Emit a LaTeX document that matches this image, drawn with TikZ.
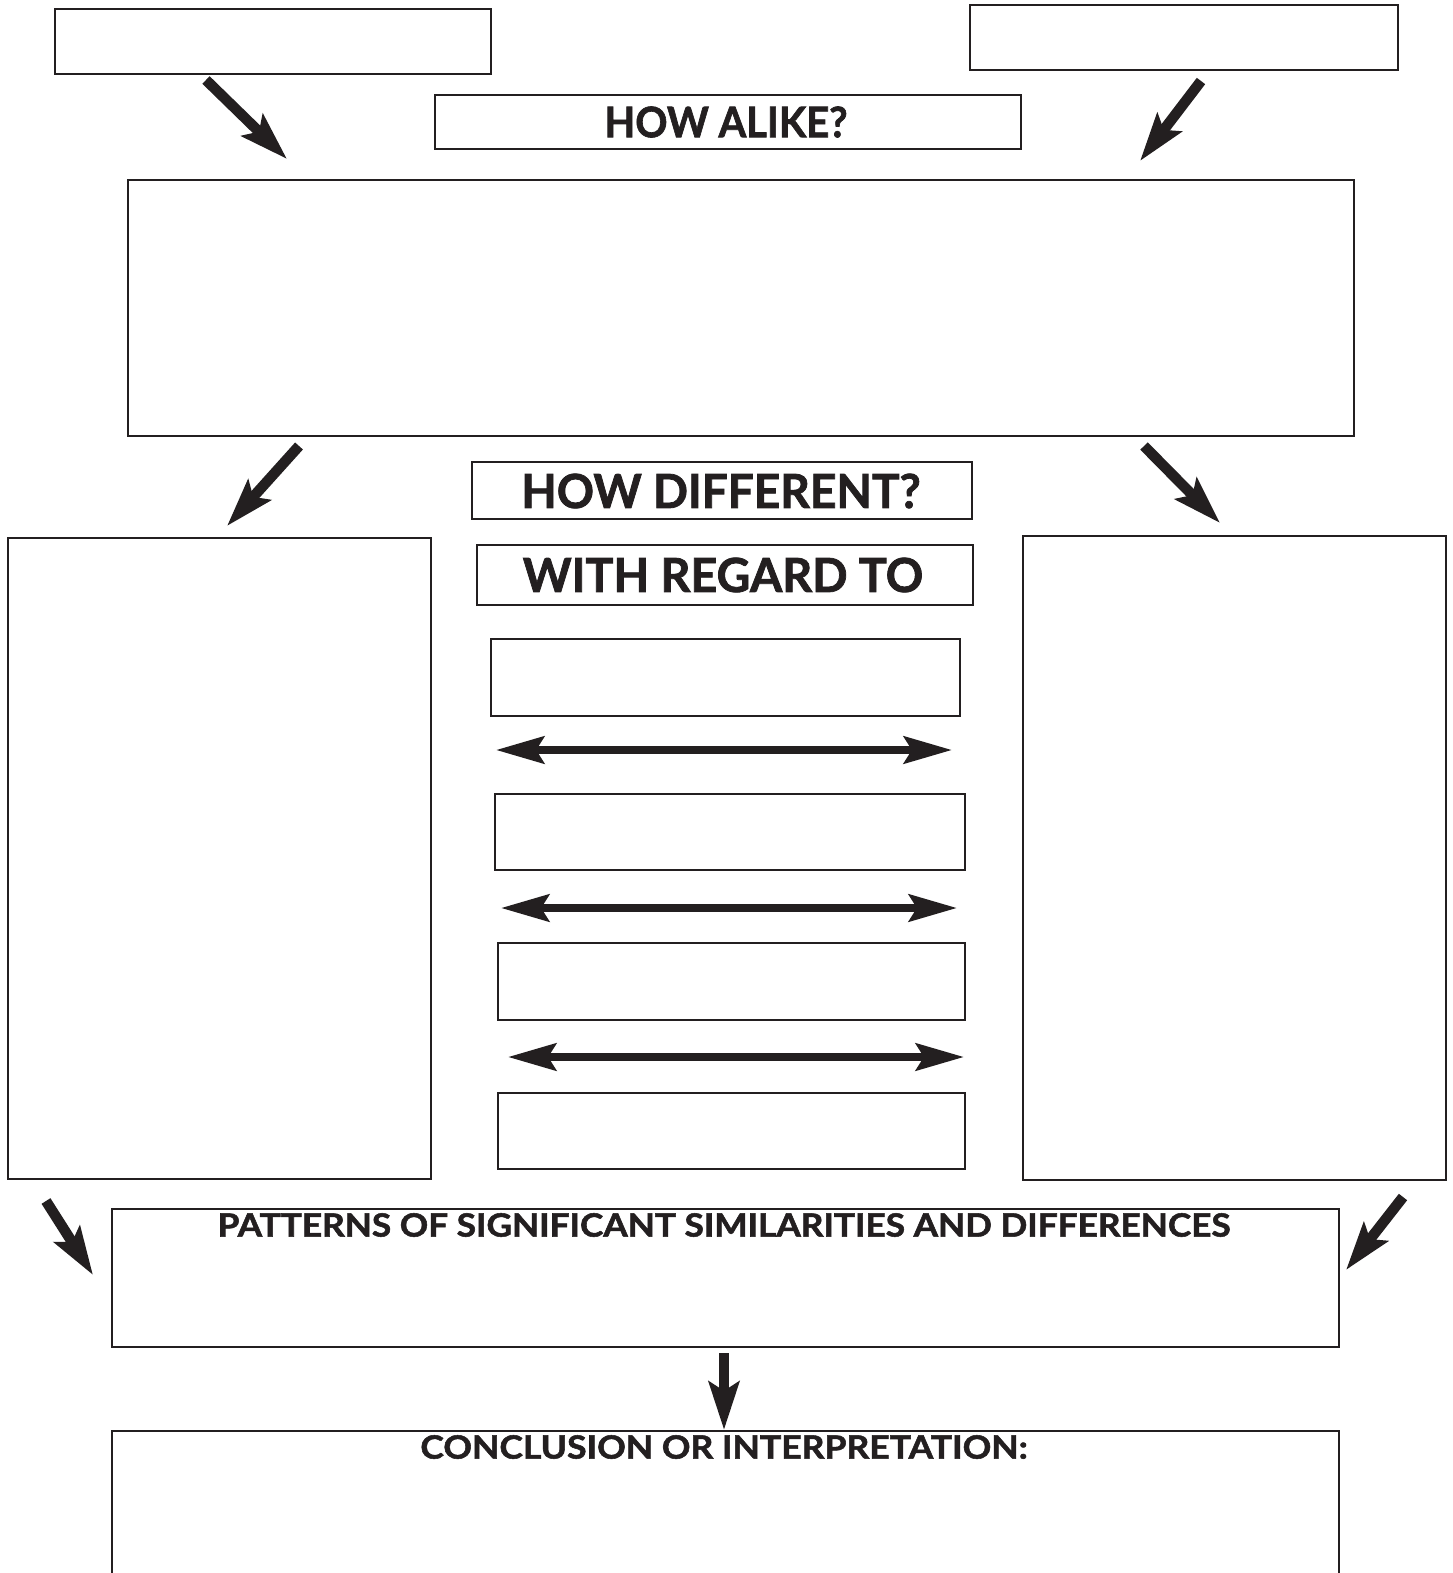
\documentclass[tikz,border=0pt]{standalone}
\usepackage{fontspec}
\setmainfont{Lato}
\newfontfamily\heavy{Lato}[UprightFeatures={FakeBold=1.6}, BoldFeatures={FakeBold=1.6}]
\usetikzlibrary{arrows.meta}
\definecolor{ink}{HTML}{231F20}
\tikzset{
  box/.style={draw=ink, line width=2pt, inner sep=0pt, anchor=north west},
  lbl/.style={text=ink, inner sep=0pt},
  fat/.style={draw=ink, line width=10.5pt, -{Stealth[length=48pt,width=30pt,inset=9pt]}},
  dbl/.style={draw=ink, line width=8pt, {Stealth[length=48pt,width=27pt,inset=8pt]}-{Stealth[length=48pt,width=27pt,inset=8pt]}},
}
\newcommand{\boxat}[5]{\node[box, minimum width=#4pt, minimum height=#5pt] (#1) at (#2,#3) {};}
\begin{document}
\begin{tikzpicture}[x=1pt,y=-1pt]
\useasboundingbox (0,0) rectangle (1452,1573);
\clip (0,0) rectangle (1452,1573);
\fill[white] (0,0) rectangle (1452,1573);
% boxes
\boxat{tl}{54}{8}{436}{65}
\boxat{tr}{969}{4}{428}{65}
\boxat{alike}{434}{94}{586}{54}
\boxat{big}{127}{179}{1226}{256}
\boxat{diff}{471}{461}{500}{57}
\boxat{regard}{476}{544}{496}{60}
\boxat{left}{7}{537}{423}{641}
\boxat{right}{1022}{535}{423}{644}
\boxat{s1}{490}{638}{469}{77}
\boxat{s2}{494}{793}{470}{76}
\boxat{s3}{497}{942}{467}{77}
\boxat{s4}{497}{1092}{467}{76}
\boxat{pat}{111}{1208}{1227}{138}
\boxat{concl}{111}{1430}{1227}{200}
% labels
\node[lbl, xscale=0.95, font=\fontsize{42}{42}\selectfont\heavy\bfseries] (talike) at (726,122) {HOW ALIKE?};
\node[lbl, xscale=0.98, font=\fontsize{47}{47}\selectfont\heavy\bfseries] (tdiff) at (721,491) {HOW DIFFERENT?};
\node[lbl, xscale=0.99, font=\fontsize{47}{47}\selectfont\heavy\bfseries] (treg) at (723,575) {WITH REGARD TO};
\node[lbl, xscale=1.1, font=\fontsize{32}{32}\selectfont\heavy\bfseries] (tpat) at (724,1225) {PATTERNS OF SIGNIFICANT SIMILARITIES AND DIFFERENCES};
\node[lbl, xscale=1.11, font=\fontsize{32}{32}\selectfont\heavy\bfseries] (tconcl) at (724,1447) {CONCLUSION OR INTERPRETATION:};
% arrow end points
\coordinate (a1s) at (206,80);  \coordinate (a1e) at (287,159);
\coordinate (a2s) at (1201,81); \coordinate (a2e) at (1140,161);
\coordinate (a3s) at (299,446); \coordinate (a3e) at (227,526);
\coordinate (a4s) at (1144,446); \coordinate (a4e) at (1220,523);
\coordinate (a5s) at (46,1201); \coordinate (a5e) at (93,1275);
\coordinate (a6s) at (1403,1197); \coordinate (a6e) at (1346,1270);
\draw[fat] (a1s) -- (a1e);
\draw[fat] (a2s) -- (a2e);
\draw[fat] (a3s) -- (a3e);
\draw[fat] (a4s) -- (a4e);
\draw[fat] (a5s) -- (a5e);
\draw[fat] (a6s) -- (a6e);
\draw[fat] (pat.south -| 724,0) ++(0,5) coordinate (a7s) -- (concl.north -| a7s);
% double arrows
\coordinate (d1l) at (496,750); \coordinate (d1r) at (952,750);
\coordinate (d2l) at (501,908); \coordinate (d2r) at (957,908);
\coordinate (d3l) at (508,1057); \coordinate (d3r) at (964,1057);
\draw[dbl] (d1l) -- (d1r);
\draw[dbl] (d2l) -- (d2r);
\draw[dbl] (d3l) -- (d3r);
\end{tikzpicture}
\end{document}
